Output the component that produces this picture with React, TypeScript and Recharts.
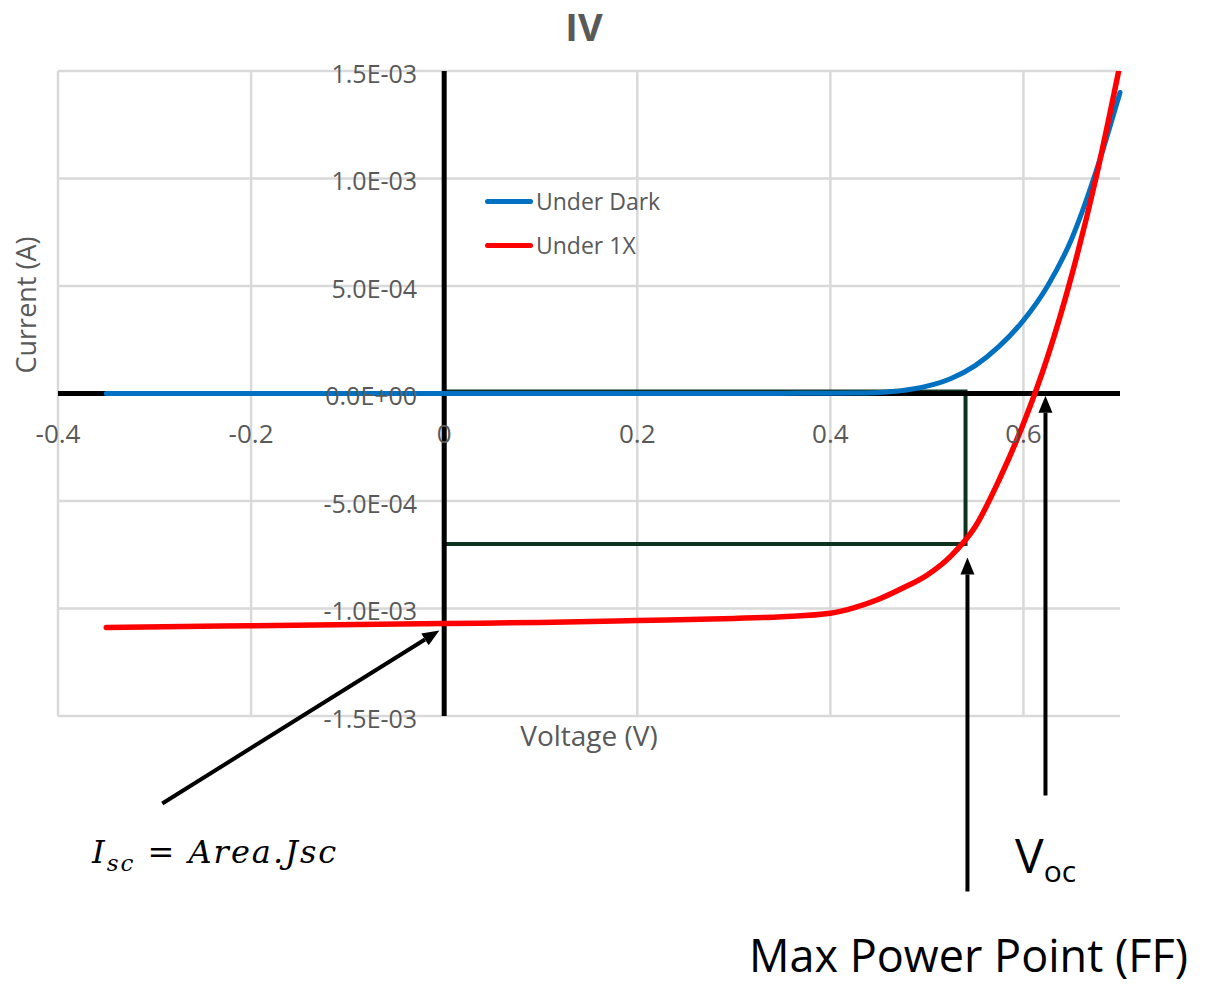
import React from "react";
import { LineChart, Line, XAxis, YAxis, CartesianGrid, ReferenceLine, ReferenceArea, ReferenceDot, Legend } from "recharts";

// voltage sweep (V)
const voltage = [-0.35, -0.2, 0, 0.1, 0.2, 0.3, 0.35, 0.4, 0.425, 0.45, 0.475, 0.5, 0.525, 0.55, 0.575, 0.6, 0.625, 0.65, 0.675, 0.7];
// current (A)
const darkCurrent = [0, 0, 0, 0, 0, 0, 0.0000005, 0.000001, 0.000002, 0.000005, 0.000014, 0.000034, 0.00007, 0.00013, 0.00022, 0.00034, 0.0005, 0.00072, 0.00103, 0.0014];
const lightCurrent = [-0.001088, -0.00108, -0.00107, -0.001065, -0.001056, -0.001046, -0.001038, -0.001022, -0.000996, -0.000957, -0.000905, -0.000845, -0.000755, -0.00062, -0.0004, -0.00014, 0.00017, 0.00055, 0.001, 0.00153];

const seriesNames = ["Under Dark", "Under 1X"];

const xTicks = [-0.4, -0.2, 0, 0.2, 0.4, 0.6];
const xTickLabels = ["-0.4", "-0.2", "0", "0.2", "0.4", "0.6"];
const yTicks = [0.0015, 0.001, 0.0005, 0, -0.0005, -0.001, -0.0015];
const yTickLabels = ["1.5E-03", "1.0E-03", "5.0E-04", "0.0E+00", "-5.0E-04", "-1.0E-03", "-1.5E-03"];

// max power point box and arrow annotations
const mppVoltage = 0.54;
const mppCurrent = -0.0007;
const iscArrow = [{ x: -0.292, y: -0.001907 }, { x: -0.005, y: -0.001102 }];
const mppArrow = [{ x: 0.542, y: -0.002316 }, { x: 0.542, y: -0.000763 }];
const vocArrow = [{ x: 0.6228, y: -0.00187 }, { x: 0.6228, y: -0.00001 }];

const data = voltage.map((v, i) => ({ v, dark: darkCurrent[i], light: lightCurrent[i] }));

const FONT = "'Open Sans', sans-serif";
const GREY = "#595959";

const arrowShape = (p: any) => {
  const { x1, y1, x2, y2 } = p;
  const ang = Math.atan2(y2 - y1, x2 - x1);
  const len = 17;
  const half = 7;
  const bx = x2 - len * Math.cos(ang);
  const by = y2 - len * Math.sin(ang);
  const px = -Math.sin(ang) * half;
  const py = Math.cos(ang) * half;
  return (
    <g>
      <line x1={x1} y1={y1} x2={bx} y2={by} stroke="#000" strokeWidth={4} />
      <polygon points={`${x2},${y2} ${bx + px},${by + py} ${bx - px},${by - py}`} fill="#000" />
    </g>
  );
};

// outlined box, no fill
const boxShape = (p: any) => (
  <rect x={p.x} y={p.y - 2} width={p.width} height={p.height + 2} fill="none" stroke="#0d3320" strokeWidth={4} />
);

const renderLegend = (props: any) => {
  const items = [...(props.payload || [])].sort(
    (a: any, b: any) => seriesNames.indexOf(a.value) - seriesNames.indexOf(b.value)
  );
  return (
    <div style={{ fontFamily: FONT }}>
      {items.map((item: any) => (
        <div key={item.value} style={{ display: "flex", alignItems: "center", height: 44 }}>
          <div style={{ width: 48, height: 5, borderRadius: 3, background: item.color, marginRight: 3 }} />
          <span style={{ fontSize: 23, color: GREY }}>{item.value}</span>
        </div>
      ))}
    </div>
  );
};

export default function App() {
  return (
    <div style={{ position: "relative", width: 1205, height: 984, margin: "-8px 0 0 -8px", background: "#fff" }}>
      <LineChart width={1205} height={984} data={data} margin={{ top: 71, right: 85, bottom: 268, left: 58 }}>
        <CartesianGrid stroke="#d9d9d9" strokeWidth={2.5} verticalValues={xTicks} horizontalValues={yTicks} />
        <XAxis type="number" dataKey="v" domain={[-0.4, 0.7]} ticks={xTicks} hide />
        <YAxis type="number" domain={[-0.0015, 0.0015]} ticks={yTicks} allowDataOverflow hide />
        <ReferenceLine y={0} stroke="#000" strokeWidth={5} />
        <ReferenceLine x={0} stroke="#000" strokeWidth={5} />
        <Line type="monotone" dataKey="dark" name={seriesNames[0]} stroke="#0070c0" strokeWidth={5} strokeLinecap="round" dot={false} isAnimationActive={false} />
        <Line type="monotone" dataKey="light" name={seriesNames[1]} stroke="#ff0000" strokeWidth={5.5} strokeLinecap="round" dot={false} isAnimationActive={false} />
        <ReferenceArea x1={0} x2={mppVoltage} y1={mppCurrent} y2={0} ifOverflow="visible" shape={boxShape} />
        {xTicks.map((t, i) => (
          <ReferenceDot key={"x" + t} x={t} y={0} r={0} fill="none" stroke="none" ifOverflow="visible"
            label={{ value: xTickLabels[i], position: "bottom", offset: 31, fill: GREY, fontSize: 26, fontFamily: FONT }} />
        ))}
        {yTicks.map((t, i) => (
          <ReferenceDot key={"y" + t} x={0} y={t} r={0} fill="none" stroke="none" ifOverflow="visible"
            label={{ value: yTickLabels[i], position: "left", offset: 27, dy: 3, fill: GREY, fontSize: 25, fontFamily: FONT }} />
        ))}
        <ReferenceLine segment={iscArrow} ifOverflow="visible" shape={arrowShape} />
        <ReferenceLine segment={mppArrow} ifOverflow="visible" shape={arrowShape} />
        <ReferenceLine segment={vocArrow} ifOverflow="visible" shape={arrowShape} />
        <Legend layout="vertical" align="center" verticalAlign="middle" content={renderLegend}
          wrapperStyle={{ left: 485, top: 179, width: "auto", height: "auto" }} />
      </LineChart>
      <svg width={1205} height={984} style={{ position: "absolute", left: 0, top: 0, pointerEvents: "none" }}>
        <text x={584} y={41} textAnchor="middle" fontFamily={FONT} fontWeight={700} fontSize={38} fill={GREY}>IV</text>
        <text x={36} y={305} transform="rotate(-90 36 305)" textAnchor="middle" fontFamily={FONT} fontSize={27} fill={GREY}>Current (A)</text>
        <text x={589} y={746} textAnchor="middle" fontFamily={FONT} fontSize={28} fill={GREY}>Voltage (V)</text>
        <text x={92} y={863} fontFamily="'DejaVu Serif', serif" fontSize={32} letterSpacing={2} fill="#000">
          <tspan fontStyle="italic">I</tspan>
          <tspan fontStyle="italic" fontSize={23} dy={8}>sc</tspan>
          <tspan dy={-8}> = </tspan>
          <tspan fontStyle="italic">Area.Jsc</tspan>
        </text>
        <text x={1015} y={873} fontFamily={FONT} fontSize={48} fill="#000">
          V<tspan fontSize={30} dy={9}>oc</tspan>
        </text>
        <text x={749} y={972} fontFamily={FONT} fontSize={45} fill="#000">Max Power Point (FF)</text>
      </svg>
    </div>
  );
}
